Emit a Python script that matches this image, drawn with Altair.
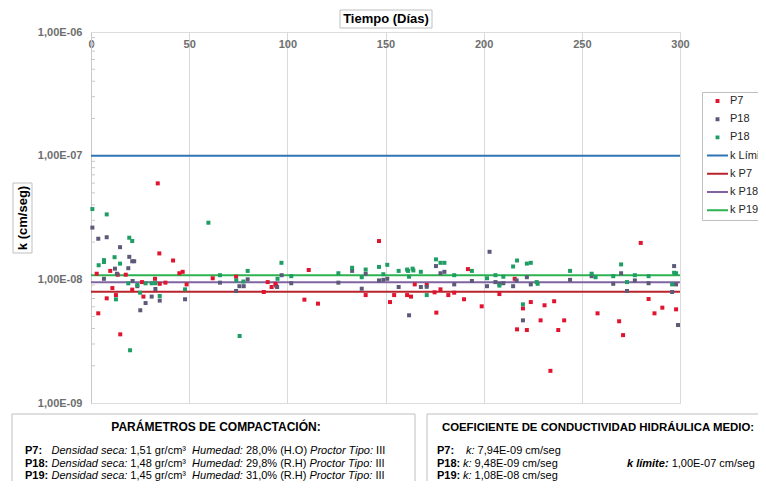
import altair as alt
import pandas as pd

# ------------------------------------------------------------------ data
p7_dias = [2.9, 3.7, 8, 9.8, 10.9, 12.7, 13.6, 14.9, 17.7, 21, 26, 26.7, 32.6, 34, 34.8,
           35, 37.9, 41.8, 45, 46.7, 48.7, 62, 73.9, 88, 90, 92, 93.9, 94.3, 108.7, 110.9,
           115.6, 139.9, 146.7, 152.3, 154.4, 161, 163, 164.9, 171, 175, 175.9, 178, 182, 185, 190,
           192, 199, 208, 215.8, 217, 220, 222, 224, 229, 231, 234, 235.9, 238, 241, 258,
           269, 271, 280, 284, 287, 291, 298]
p7_k = [1.11e-8, 5.31e-9, 7.02e-9, 1.17e-8, 8.50e-9, 7.46e-9, 1.09e-8, 3.59e-9, 1.09e-8, 8.26e-9,
        9.5e-9, 7.25e-9, 1.01e-8, 5.97e-8, 1.62e-8, 9.2e-9, 9.4e-9, 1.42e-8, 1.12e-8, 1.15e-8,
        9.1e-9, 1.02e-8, 1.05e-8, 7.9e-9, 9.5e-9, 8.67e-9, 9.2e-9, 8.9e-9, 6.85e-9, 1.19e-8,
        6.36e-9, 7.46e-9, 2.04e-8, 6.55e-9, 7.46e-9, 7.46e-9, 7.25e-9, 9.1e-9, 9.0e-9, 7.85e-9,
        5.38e-9, 8.3e-9, 7.46e-9, 7.8e-9, 6.9e-9, 1.21e-8, 6.05e-9, 7.6e-9, 1.01e-8, 3.94e-9,
        5.82e-9, 3.89e-9, 6.55e-9, 4.66e-9, 6.17e-9, 1.82e-9, 6.65e-9, 3.89e-9, 4.66e-9, 5.31e-9,
        4.58e-9, 3.54e-9, 1.97e-8, 6.93e-9, 5.31e-9, 5.9e-9, 5.72e-9]

p18_dias = [0.7, 3.7, 6.6, 8, 12.2, 13.2, 14.8, 19, 19.5, 21, 22, 21.2, 23.6, 25.1, 27.8,
            30.9, 32.8, 35, 47.9, 65.7, 73.9, 75.6, 77.8, 79.8, 94.8, 97.1, 102, 126, 133, 137.9,
            139.9, 146.7, 148.9, 150.9, 156.7, 162, 168, 171, 175.7, 178, 180, 185, 194, 201.7, 203,
            206, 208, 210, 215, 216.8, 220, 222, 224, 244, 255, 266, 270, 273, 277, 284,
            296, 297, 298, 299]
p18_k = [2.62e-8, 2.13e-8, 1.01e-8, 2.19e-8, 1.22e-8, 1.11e-8, 1.82e-8, 1.23e-8, 1.52e-8, 1.40e-8,
         1.40e-8, 9.69e-9, 8.8e-9, 5.62e-9, 6.43e-9, 7.25e-9, 8.35e-9, 6.73e-9, 6.9e-9, 9.4e-9,
         8.05e-9, 8.8e-9, 8.8e-9, 1.0e-8, 8.67e-9, 1.08e-8, 9.3e-9, 9.4e-9, 1.17e-8, 8.4e-9,
         1.11e-8, 9.8e-9, 9.9e-9, 1.01e-8, 8.67e-9, 5.12e-9, 8.67e-9, 8.7e-9, 1.28e-8, 1.12e-8,
         1.15e-8, 9.1e-9, 9.7e-9, 8.8e-9, 1.67e-8, 9.5e-9, 9.2e-9, 9.3e-9, 8.8e-9, 9.8e-9,
         4.66e-9, 1.04e-8, 9.1e-9, 9.9e-9, 1.06e-8, 9.2e-9, 1.12e-8, 8.05e-9, 9.8e-9, 9.3e-9,
         7.9e-9, 1.28e-8, 9.1e-9, 4.27e-9]

p19_dias = [0.7, 3.9, 6.6, 6.6, 8, 12, 12.7, 14.8, 19, 19.5, 19.9, 21, 23.6, 25, 27.8,
            30.9, 32.8, 35, 47.9, 59.8, 65.7, 74, 75.7, 77.6, 79.8, 95, 97, 102, 126, 133,
            137.9, 139.9, 146.7, 148.9, 150.9, 156.7, 161, 161.5, 163.8, 164.2, 162, 168, 171, 175.7, 178,
            180, 185, 194, 201.7, 206, 208, 210, 215, 217, 220, 222, 224, 227, 227.5, 244,
            255, 257, 266, 270, 273, 277, 284, 296, 297, 298]
p19_k = [3.70e-8, 1.30e-8, 1.43e-8, 1.38e-8, 3.35e-8, 1.51e-8, 6.89e-9, 1.34e-8, 9.28e-9, 2.17e-8,
         2.67e-9, 2.04e-8, 9.0e-9, 7.8e-9, 9.28e-9, 9.28e-9, 9.3e-9, 7.33e-9, 8.3e-9, 2.87e-8,
         1.08e-8, 9.8e-9, 3.48e-9, 9.6e-9, 1.17e-8, 1.01e-8, 1.36e-8, 1.06e-8, 1.12e-8, 1.24e-8,
         1.04e-8, 1.2e-8, 1.26e-8, 1.1e-8, 1.31e-8, 1.17e-8, 1.2e-8, 1.17e-8, 1.22e-8, 1.18e-8,
         1.05e-8, 1.15e-8, 7.46e-9, 1.45e-8, 1.36e-8, 1.36e-8, 1.08e-8, 1.17e-8, 1.02e-8, 1.08e-8,
         8.9e-9, 1.05e-8, 1.27e-8, 1.42e-8, 6.28e-9, 1.34e-8, 1.36e-8, 9.5e-9, 9.2e-9, 1.17e-8,
         1.11e-8, 1.04e-8, 1.06e-8, 1.32e-8, 9.5e-9, 1.08e-8, 1.06e-8, 9.1e-9, 1.13e-8, 1.12e-8]

lineas_serie = ["k Límite", "k P7", "k P18", "k P19"]
lineas_k = [1.00e-07, 7.94e-09, 9.48e-09, 1.08e-08]

series = ["P7", "P18", "P19"] + lineas_serie
colores = ["#e0142e", "#5c5a78", "#1f9e64", "#2f75b5", "#b8232c", "#8064a2", "#2db24f"]

x_ticks = [0, 50, 100, 150, 200, 250, 300]
y_ticks = [1e-9, 1e-8, 1e-7, 1e-6]
y_minor = [m * 10.0 ** e for e in (-9, -8, -7) for m in range(2, 10)]

titulo_x = "Tiempo (Días)"
titulo_y = "k (cm/seg)"
caja1_titulo = "PARÁMETROS DE COMPACTACIÓN:"
caja2_titulo = "COEFICIENTE DE CONDUCTIVIDAD HIDRÁULICA MEDIO:"
caja1_nombres = ["P7:", "P18:", "P19:"]
caja1_densidad = ["1,51 gr/cm³", "1,48 gr/cm³", "1,45 gr/cm³"]
caja1_humedad = ["28,0% (H.O)", "29,8% (R.H)", "31,0% (R.H)"]
caja1_proctor = ["III", "III", "III"]
caja2_nombres = ["P7:", "P18:", "P19:"]
caja2_k = ["7,94E-09 cm/seg", "9,48E-09 cm/seg", "1,08E-08 cm/seg"]
k_limite_txt = "1,00E-07 cm/seg"

# ------------------------------------------------------------------ layout
FONT = "Liberation Sans"
W, H = 589, 371
PL, PT = 83, 24  # plot origin inside page = 8 + padding

# Arial / Liberation Sans advance widths (1/1000 em)
_REG = {' ': 278, ',': 278, '.': 278, ':': 278, '/': 278, '-': 333, '%': 889, '(': 333, ')': 333,
        '³': 333, 'D': 722, 'E': 667, 'H': 722, 'I': 278, 'O': 778, 'P': 667, 'R': 722, 'T': 611,
        'k': 500, 'a': 556, 'c': 500, 'd': 556, 'e': 556, 'g': 556, 'i': 222, 'l': 222, 'm': 833,
        'n': 556, 'o': 556, 'p': 556, 'r': 333, 's': 500, 't': 278, 'u': 556, 'í': 278}
_BOLD = dict(_REG, **{':': 333, 'k': 556, 'i': 278, 'l': 278, 'm': 889, 't': 333, 'r': 389,
                      's': 556, 'c': 556, 'o': 611, 'd': 611, 'n': 611, 'u': 611, 'p': 611})


def tw(s, size, bold=False):
    tab = _BOLD if bold else _REG
    return sum(tab.get(ch, 556) for ch in s) * size / 1000.0


def texto(t, x, y, size=11, weight="normal", style="normal", align="left", angle=0,
          color="#000000"):
    return alt.Chart(alt.Data(values=[{}])).mark_text(
        font=FONT, fontSize=size, fontWeight=weight, fontStyle=style, align=align,
        baseline="middle", angle=angle, color=color
    ).encode(x=alt.value(x), y=alt.value(y), text=alt.value(t))


def caja(x1, y1, x2, y2, stroke="#bfbfbf"):
    return alt.Chart(alt.Data(values=[{}])).mark_rect(
        fill="white", stroke=stroke, strokeWidth=1
    ).encode(x=alt.value(x1), x2=alt.value(x2), y=alt.value(y1), y2=alt.value(y2))


def px(xp):  # page x -> plot x
    return xp - 8 - PL


def py(yp):  # page y -> plot y
    return yp - 8 - PT


# ------------------------------------------------------------------ chart
puntos = pd.DataFrame({
    "serie": ["P7"] * len(p7_dias) + ["P18"] * len(p18_dias) + ["P19"] * len(p19_dias),
    "dia": p7_dias + p18_dias + p19_dias,
    "k": p7_k + p18_k + p19_k,
})
lineas = pd.DataFrame({"serie": lineas_serie, "k": lineas_k})
menores = pd.DataFrame({"k": y_minor})

xscale = alt.Scale(domain=[0, 300], nice=False, zero=False)
yscale = alt.Scale(type="log", domain=[1e-9, 1e-6], nice=False)

is_line = "substring(datum.value, 0, 2) == 'k '"
leyenda = alt.Legend(
    title=None, orient="none", legendX=px(702), legendY=py(92),
    labelExpr="datum.label == 'P19' ? 'P18' : datum.label",
    labelFont=FONT, labelFontSize=11, labelColor="#262626",
    symbolSize=441, symbolStrokeWidth=2, symbolOffset=1, labelOffset=1,
    symbolType=alt.ExprRef(expr=f"{is_line} ? 'M-1,0H1' : 'M-0.09,-0.09H0.09V0.09H-0.09Z'"),
    symbolOpacity=1,
    padding=3, rowPadding=6.2, clipHeight=12,
    strokeColor="#bfbfbf", fillColor="white",
)
color = alt.Color("serie:N", scale=alt.Scale(domain=series, range=colores), legend=leyenda)

eje_x = alt.Axis(orient="top", values=x_ticks, title=None, grid=True, gridColor="#d9d9d9",
                 domain=False, ticks=False, tickSize=0, labelPadding=-17,
                 labelFont=FONT, labelFontSize=11, labelFontWeight="bold", labelColor="#6e6e6e",
                 labelFlush=False)
eje_y = alt.Axis(values=y_ticks, title=None, grid=False, ticks=False, tickSize=0,
                 domainColor="#c8c8c8", labelPadding=9,
                 labelExpr="'1,00E-' + format(-round(log(datum.value) / LN10), '02d')",
                 labelFont=FONT, labelFontSize=11, labelFontWeight="bold", labelColor="#6e6e6e")

capa_lineas = alt.Chart(lineas).mark_rule(strokeWidth=2).encode(
    x=alt.datum(0, scale=xscale, axis=eje_x),
    x2=alt.datum(300),
    y=alt.Y("k:Q", scale=yscale, axis=eje_y),
    color=color,
)
capa_puntos = alt.Chart(puntos).mark_square(size=16, opacity=1, filled=True).encode(
    x=alt.X("dia:Q", scale=xscale, axis=eje_x),
    y=alt.Y("k:Q", scale=yscale, axis=eje_y),
    color=color,
)
capa_menores = alt.Chart(menores).mark_rule(color="#c8c8c8", strokeWidth=1).encode(
    x=alt.value(0), x2=alt.value(4), y=alt.Y("k:Q", scale=yscale, axis=eje_y)
)

capas = [capa_menores, capa_lineas, capa_puntos]

# axis title boxes
capas += [
    caja(px(340), py(10), px(432), py(28)),
    texto(titulo_x, px(386), py(19), size=13, weight="bold", align="center"),
    caja(px(13), py(183), px(32), py(253)),
    texto(titulo_y, px(23), py(218), size=13, weight="bold", align="center", angle=270),
    alt.Chart(alt.Data(values=[{}])).mark_rule(color="#d0d0d0").encode(
        x=alt.value(px(208)), x2=alt.value(px(573)), y=alt.value(py(0.5))),
]

# bottom box 1
capas += [caja(px(12), py(414), px(415), py(520)),
          texto(caja1_titulo, px(216), py(427), size=12, weight="bold", align="center")]
filas_y = [451, 463.5, 475.5]
for i in range(3):
    yy = py(filas_y[i])
    capas.append(texto(caja1_nombres[i], px(25), yy, weight="bold"))
    x = 51.5
    segs = [("Densidad seca:", "italic"), (caja1_densidad[i], "normal"), (None, 1),
            ("Humedad:", "italic"), (caja1_humedad[i], "normal"),
            ("Proctor Tipo:", "italic"), (caja1_proctor[i], "normal")]
    for s, st in segs:
        if s is None:
            x += tw(" ", 11)
            continue
        capas.append(texto(s, px(x), yy, style=st))
        x += tw(s, 11) + tw(" ", 11)

# bottom box 2
capas += [caja(px(427), py(414), px(800), py(520)),
          texto(caja2_titulo, px(598), py(428), size=11.4, weight="bold", align="center")]
for i in range(3):
    yy = py(filas_y[i])
    capas.append(texto(caja2_nombres[i], px(437), yy, weight="bold"))
    xk = 466 if i == 0 else 463
    capas.append(texto("k:", px(xk), yy, style="italic"))
    capas.append(texto(caja2_k[i], px(xk + tw("k: ", 11)), yy))
capas.append(texto("k límite:", px(627), py(filas_y[1]), weight="bold", style="italic"))
capas.append(texto(k_limite_txt, px(627 + tw("k límite: ", 11, bold=True)), py(filas_y[1])))

chart = alt.layer(*capas).properties(
    width=W, height=H,
    autosize=alt.AutoSizeParams(type="none"),
    padding={"left": PL, "top": PT, "right": 78, "bottom": 78},
).configure_view(stroke="#d9d9d9", strokeWidth=1).configure(background="white")

chart.save("out.html", embed_options={"renderer": "svg", "actions": False})
